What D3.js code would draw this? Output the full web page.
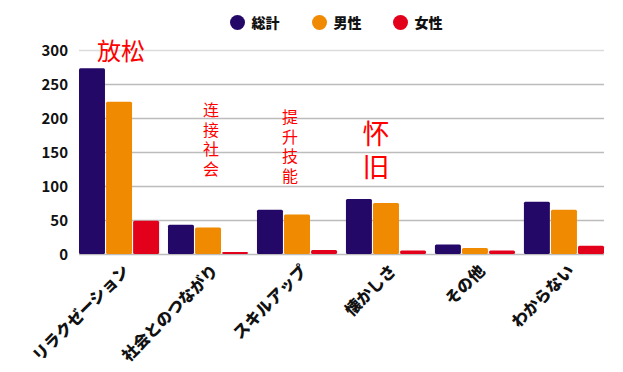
<!DOCTYPE html>
<html>
  <head>
    <meta charset="utf-8">
    <title>理由別の回答数</title>
    <script src="https://d3js.org/d3.v7.min.js"></script>
    <style>
      body { margin: 0; background: #fff; }
      #chart { display: block; }
      .tick text, .legend text, .xlabel { font-family: "Noto Sans CJK JP", "Noto Sans", sans-serif; font-weight: 700; fill: #111; }
      .xlabel, .legend text { font-weight: 900; }
      .note { font-family: "Noto Sans CJK SC", sans-serif; fill: #ff0000; text-anchor: middle; }
      .note.vertical { writing-mode: vertical-rl; text-anchor: start; }
    </style>
  </head>
  <body>
    <svg id="chart" width="623" height="372">
      <g id="gridGroup"></g>
      <g id="chartGroup"></g>
      <g id="axisGroup"></g>
      <g id="noteGroup"></g>
      <g id="legendGroup" class="legend"></g>
    </svg>
    <script>
      // data
      const categories = ["リラクゼーション", "社会とのつながり", "スキルアップ", "懐かしさ", "その他", "わからない"];
      const seriesNames = ["総計", "男性", "女性"];
      const total = [273, 43, 65, 81, 14, 77];
      const male = [224, 39, 58, 75, 9, 65];
      const female = [49, 3, 6, 5, 5, 12];
      const yTicks = [0, 50, 100, 150, 200, 250, 300];
      const colors = ["#240868", "#f08a00", "#e3001b"];
      // red notes written over the chart
      const notes = [
        { category: "リラクゼーション", text: "放松" },
        { category: "社会とのつながり", text: "连接社会" },
        { category: "スキルアップ", text: "提升技能" },
        { category: "懐かしさ", text: "怀旧" }
      ];

      const values = [total, male, female];
      const rows = categories.map(function(c, i) {
        return { category: c, values: seriesNames.map(function(s, j) { return { series: s, value: values[j][i] }; }) };
      });

      const margin = { top: 50, right: 19, bottom: 118, left: 79 };
      const width = 623, height = 372;

      const x0 = d3.scaleBand()
        .domain(categories)
        .range([margin.left, width - margin.right])
        .paddingInner(0.1)
        .paddingOuter(0);
      const x1 = d3.scaleBand()
        .domain(seriesNames)
        .range([0, x0.bandwidth()])
        .paddingInner(0.04);
      const y = d3.scaleLinear()
        .domain([0, 300])
        .range([height - margin.bottom, margin.top]);
      const color = d3.scaleOrdinal().domain(seriesNames).range(colors);

      const svg = d3.select("#chart");

      // gridlines
      d3.select("#gridGroup")
        .selectAll("line")
          .data(yTicks)
        .enter().append("line")
          .attr("x1", margin.left)
          .attr("x2", width - margin.right)
          .attr("y1", function(d) { return y(d) + 0.5; })
          .attr("y2", function(d) { return y(d) + 0.5; })
          .attr("stroke", function(d) { return d === 300 ? "#dcdcdc" : "#bcbcbc"; })
          .attr("stroke-width", 1.3);

      // y axis labels
      const yAxis = d3.axisLeft(y).tickValues(yTicks).tickSize(0).tickPadding(11);
      d3.select("#axisGroup")
        .attr("transform", "translate(" + margin.left + ",0)")
        .call(yAxis)
        .call(function(g) { g.select(".domain").remove(); })
        .selectAll("text")
          .style("font-size", "15px")
          .attr("dy", "0.36em");

      // bars
      const groups = d3.select("#chartGroup")
        .selectAll(".group")
          .data(rows)
        .enter().append("g")
          .classed("group", true)
          .attr("transform", function(d) { return "translate(" + x0(d.category) + ",0)"; });
      groups.selectAll("rect")
          .data(function(d) { return d.values; })
        .enter().append("rect")
          .attr("x", function(d) { return x1(d.series); })
          .attr("y", function(d) { return y(d.value); })
          .attr("width", x1.bandwidth())
          .attr("height", function(d) { return y(0) - y(d.value); })
          .attr("rx", 1.5)
          .attr("fill", function(d) { return color(d.series); });

      // rotated category labels
      svg.append("g")
        .selectAll("text")
          .data(categories)
        .enter().append("text")
          .classed("xlabel", true)
          .attr("transform", function(d) {
            return "translate(" + (x0(d) + x0.bandwidth() / 2 + 11) + "," + (y(0) + 18) + ") rotate(-45)";
          })
          .attr("text-anchor", "end")
          .style("font-size", "16px")
          .text(function(d) { return d; });

      // notes
      const noteGroup = d3.select("#noteGroup");
      const cx = function(c) { return x0(c) + x0.bandwidth() / 2; };
      // horizontal one
      noteGroup.append("text")
        .classed("note", true)
        .attr("x", cx(notes[0].category) + 2)
        .attr("y", 60)
        .style("font-size", "24px")
        .text(notes[0].text);
      // vertical ones
      const vertical = [
        { note: notes[1], dx: 3, top: 102, size: 16, gap: 3.5 },
        { note: notes[2], dx: -7, top: 109, size: 16, gap: 3.5 },
        { note: notes[3], dx: -10, top: 120, size: 27, gap: 6 }
      ];
      noteGroup.selectAll(".vertical")
          .data(vertical)
        .enter().append("text")
          .attr("class", "note vertical")
          .attr("x", function(v) { return cx(v.note.category) + v.dx; })
          .attr("y", function(v) { return v.top; })
          .style("font-size", function(v) { return v.size + "px"; })
          .style("letter-spacing", function(v) { return v.gap + "px"; })
          .text(function(v) { return v.note.text; });

      // legend
      const legendX = [237.5, 319.5, 400.5];
      const legend = d3.select("#legendGroup")
        .selectAll("g")
          .data(seriesNames)
        .enter().append("g")
          .attr("transform", function(d, i) { return "translate(" + legendX[i] + ",22.5)"; });
      legend.append("circle")
        .attr("r", 7.5)
        .attr("fill", function(d) { return color(d); });
      legend.append("text")
        .attr("x", 14)
        .attr("dy", "0.36em")
        .style("font-size", "14px")
        .text(function(d) { return d; });
    </script>
  </body>
</html>
